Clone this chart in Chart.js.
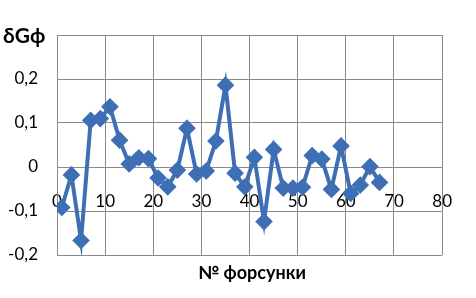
<!DOCTYPE html>
<html>
<head>
<meta charset="utf-8">
<script src="https://cdn.jsdelivr.net/npm/chart.js@4/dist/chart.umd.min.js"></script>
<style>
  html, body { margin: 0; padding: 0; background: #fff; }
  #wrap { width: 476px; height: 298px; position: relative; }
</style>
</head>
<body>
<div id="wrap"><canvas id="chart"></canvas></div>
<script>
// injector numbers and deviation values
const injectors = [1, 3, 5, 7, 9, 11, 13, 15, 17, 19, 21, 23, 25, 27, 29, 31, 33,
    35, 37, 39, 41, 43, 45, 47, 49, 51, 53, 55, 57, 59, 61, 63, 65, 67];
const deltaG = [-0.092, -0.018, -0.167, 0.106, 0.11, 0.137, 0.061, 0.007, 0.021, 0.019,
    -0.025, -0.045, -0.007, 0.088, -0.016, -0.009, 0.059, 0.186, -0.014, -0.045,
    0.022, -0.124, 0.040, -0.048, -0.048, -0.046, 0.026, 0.018, -0.051, 0.048,
    -0.06, -0.041, 0.001, -0.035];

const yTitle = 'δGф';
const xTitle = '№ форсунки';

const points = injectors.map((x, i) => ({ x: x, y: deltaG[i] }));

const fontFamily = 'Lato, "Open Sans", sans-serif';
const gridColor = '#8a8a8a';
const lineColor = 'rgb(62, 111, 180)';

// draw the two axis titles as plain text
const titlesPlugin = {
    id: 'titles',
    afterDraw(chart) {
        const ctx = chart.ctx;
        ctx.save();
        ctx.fillStyle = '#000';
        ctx.textBaseline = 'middle';
        ctx.font = 'bold 21px ' + fontFamily;
        ctx.textAlign = 'left';
        ctx.fillText(yTitle, 3, 36);
        ctx.font = 'bold 18px ' + fontFamily;
        ctx.textAlign = 'center';
        ctx.fillText(xTitle, 252, 273);
        ctx.restore();
    }
};

new Chart(document.getElementById('chart'), {
    type: 'scatter',
    data: {
        datasets: [{
            data: points,
            showLine: true,
            borderColor: lineColor,
            backgroundColor: lineColor,
            borderWidth: 4,
            pointStyle: 'rectRot',
            pointRadius: 6,
            pointHoverRadius: 6,
            tension: 0
        }]
    },
    options: {
        responsive: true,
        maintainAspectRatio: false,
        animation: false,
        layout: {
            padding: { left: 0, right: 27, top: 35, bottom: 43 }
        },
        plugins: {
            legend: { display: false },
            tooltip: { enabled: false }
        },
        scales: {
            x: {
                type: 'linear',
                position: { y: 0 },
                min: 0,
                max: 80,
                border: { display: true, color: gridColor },
                grid: { color: gridColor, drawTicks: false },
                ticks: {
                    stepSize: 10,
                    padding: 24,
                    color: '#000',
                    font: { family: fontFamily, size: 17 }
                }
            },
            y: {
                min: -0.2,
                max: 0.3,
                border: { display: true, color: gridColor },
                grid: { color: gridColor, drawTicks: false },
                afterFit(scale) { scale.width = 57; },
                ticks: {
                    stepSize: 0.1,
                    padding: 19,
                    color: '#000',
                    font: { family: fontFamily, size: 17 },
                    callback(v) {
                        const r = Math.round(v * 10) / 10;
                        if (r > 0.25) return '';
                        return String(r).replace('.', ',');
                    }
                }
            }
        }
    },
    plugins: [titlesPlugin]
});
</script>
</body>
</html>
